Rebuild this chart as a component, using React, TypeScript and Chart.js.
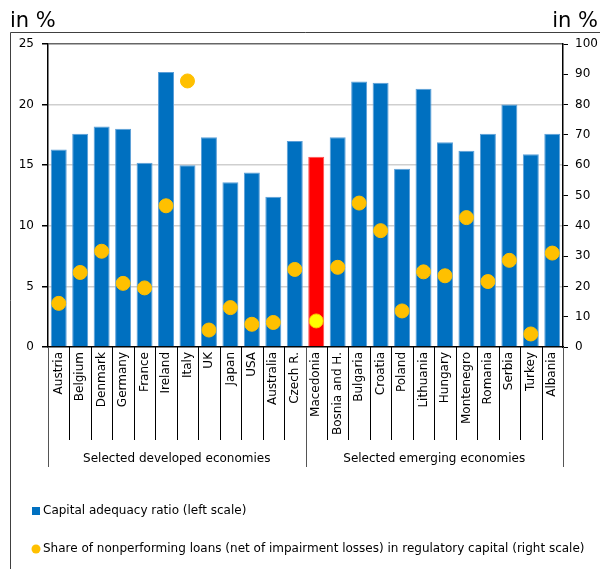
import React, { useEffect, useRef } from 'react';
import { Chart, registerables } from 'chart.js';

Chart.register(...registerables);

const categories = [
  'Austria', 'Belgium', 'Denmark', 'Germany', 'France', 'Ireland', 'Italy', 'UK', 'Japan', 'USA', 'Australia', 'Czech R.',
  'Macedonia', 'Bosnia and H.', 'Bulgaria', 'Croatia', 'Poland', 'Lithuania', 'Hungary', 'Montenegro', 'Romania', 'Serbia', 'Turkey', 'Albania',
];
const capitalAdequacy = [
  16.3, 17.6, 18.2, 18.0, 15.2, 22.7, 15.0, 17.3, 13.6, 14.4, 12.4, 17.0,
  15.7, 17.3, 21.9, 21.8, 14.7, 21.3, 16.9, 16.2, 17.6, 20.0, 15.9, 17.6,
];
const nplShare = [
  14.4, 24.6, 31.6, 21.0, 19.5, 46.6, 87.8, 5.6, 13.0, 7.5, 8.1, 25.6,
  8.6, 26.3, 47.5, 38.4, 11.9, 24.8, 23.5, 42.7, 21.6, 28.6, 4.3, 31.0,
];
const highlighted = 'Macedonia';
const groupLabels = ['Selected developed economies', 'Selected emerging economies'];
const groupSizes = [12, 12];
const leftAxis = { min: 0, max: 25, step: 5 };
const rightAxis = { min: 0, max: 100, step: 10 };
const unitLabel = 'in %';
const legendLabels = [
  'Capital adequacy ratio (left scale)',
  'Share of nonperforming loans (net of impairment losses) in regulatory capital (right scale)',
];

const FONT = "'DejaVu Sans', Verdana, sans-serif";
const BLUE = '#0070C0';
const RED = '#FF0000';
const GOLD = '#FFC000';
const YELLOW = '#FFFF00';

const decorPlugin = {
  id: 'decor',
  afterDraw(chart: any) {
    const { ctx, chartArea: area } = chart;
    const x = chart.scales.x;
    const n = categories.length;
    const half = (x.getPixelForValue(1) - x.getPixelForValue(0)) / 2;
    const boundary = (i: number) => (i < n ? x.getPixelForValue(i) - half : x.getPixelForValue(n - 1) + half);
    const groupBounds = new Set<number>();
    let acc = 0;
    groupBounds.add(0);
    groupSizes.forEach((s) => { acc += s; groupBounds.add(acc); });

    ctx.save();
    // frame
    ctx.strokeStyle = '#404040';
    ctx.lineWidth = 1;
    ctx.beginPath();
    ctx.moveTo(10.5, 569);
    ctx.lineTo(10.5, 32.5);
    ctx.lineTo(600, 32.5);
    ctx.stroke();

    // unit labels
    ctx.fillStyle = '#000';
    ctx.font = `21px ${FONT}`;
    ctx.textBaseline = 'alphabetic';
    ctx.textAlign = 'left';
    ctx.fillText(unitLabel, 10, 27);
    ctx.textAlign = 'right';
    ctx.fillText(unitLabel, 598, 27);

    // category separators
    for (let i = 0; i <= n; i++) {
      const bx = Math.round(boundary(i)) + 0.5;
      const isGroup = groupBounds.has(i);
      ctx.strokeStyle = isGroup ? '#555' : '#000';
      ctx.beginPath();
      ctx.moveTo(bx, area.bottom);
      ctx.lineTo(bx, isGroup ? 467 : 440);
      ctx.stroke();
    }

    // group labels
    ctx.font = `12px ${FONT}`;
    ctx.textAlign = 'center';
    ctx.textBaseline = 'middle';
    ctx.fillStyle = '#000';
    let start = 0;
    groupSizes.forEach((s, gi) => {
      const mid = (boundary(start) + boundary(start + s)) / 2;
      ctx.fillText(groupLabels[gi], mid, 459);
      start += s;
    });

    // legend
    ctx.textAlign = 'left';
    ctx.fillStyle = BLUE;
    ctx.fillRect(32, 507, 8, 8);
    ctx.fillStyle = '#000';
    ctx.fillText(legendLabels[0], 43, 511);
    ctx.fillStyle = GOLD;
    ctx.beginPath();
    ctx.arc(36, 549, 4.5, 0, Math.PI * 2);
    ctx.fill();
    ctx.fillStyle = '#000';
    ctx.fillText(legendLabels[1], 43, 549);
    ctx.restore();
  },
};

export default function App() {
  const ref = useRef<HTMLCanvasElement>(null);

  useEffect(() => {
    if (!ref.current) return;
    const barColors = categories.map((c) => (c === highlighted ? RED : BLUE));
    const barBorders = categories.map((c) => (c === highlighted ? '#ff5050' : '#5b9fd8'));
    const dotColors = categories.map((c) => (c === highlighted ? YELLOW : GOLD));
    const dotBorders = categories.map((c) => (c === highlighted ? GOLD : GOLD));

    const chart = new Chart(ref.current, {
      type: 'bar',
      data: {
        labels: categories,
        datasets: [
          {
            type: 'bar',
            label: legendLabels[0],
            data: capitalAdequacy,
            backgroundColor: barColors,
            borderColor: barBorders,
            borderWidth: 1,
            barPercentage: 0.745,
            categoryPercentage: 1,
            yAxisID: 'y',
            order: 2,
          },
          {
            type: 'line',
            label: legendLabels[1],
            data: nplShare,
            showLine: false,
            pointRadius: 7,
            pointBackgroundColor: dotColors,
            pointBorderColor: dotBorders,
            pointBorderWidth: 1,
            yAxisID: 'y2',
            order: 1,
          } as any,
        ],
      },
      options: {
        responsive: false,
        animation: false,
        layout: { padding: { top: 44, left: 0, right: 0, bottom: 0 } },
        plugins: {
          legend: { display: false },
          tooltip: { enabled: false },
          title: { display: false },
        },
        scales: {
          x: {
            type: 'category',
            offset: true,
            grid: { display: false, drawTicks: false },
            border: { display: true, color: '#000', width: 1.5 },
            ticks: {
              autoSkip: false,
              minRotation: 90,
              maxRotation: 90,
              padding: 5,
              color: '#000',
              font: { family: FONT, size: 12 },
            },
            afterFit: (s: any) => { s.height = 222; },
          },
          y: {
            position: 'left',
            min: leftAxis.min,
            max: leftAxis.max,
            ticks: {
              stepSize: leftAxis.step,
              padding: 8,
              color: '#000',
              font: { family: FONT, size: 12 },
            },
            grid: {
              color: (c: any) => (c.tick && c.tick.value === leftAxis.max ? '#666' : c.tick && c.tick.value === 0 ? 'rgba(0,0,0,0)' : '#cfcfcf'),
              lineWidth: (c: any) => (c.tick && c.tick.value === leftAxis.max ? 1.5 : 1.5),
              tickColor: '#000',
              tickLength: 6,
            },
            border: { display: true, color: '#000', width: 1.5 },
            afterFit: (s: any) => { s.width = 48; },
          },
          y2: {
            position: 'right',
            min: rightAxis.min,
            max: rightAxis.max,
            ticks: {
              stepSize: rightAxis.step,
              padding: 7,
              color: '#000',
              font: { family: FONT, size: 12 },
            },
            grid: {
              drawOnChartArea: false,
              tickColor: '#000',
              tickLength: 5,
            },
            border: { display: true, color: '#000', width: 1.5 },
            afterFit: (s: any) => { s.width = 37; },
          },
        },
      },
      plugins: [decorPlugin],
    });
    return () => chart.destroy();
  }, []);

  return (
    <div style={{ position: 'absolute', left: 0, top: 0, width: 600, height: 569, background: '#fff' }}>
      <canvas ref={ref} width={600} height={569} style={{ display: 'block', width: 600, height: 569 }} />
    </div>
  );
}
